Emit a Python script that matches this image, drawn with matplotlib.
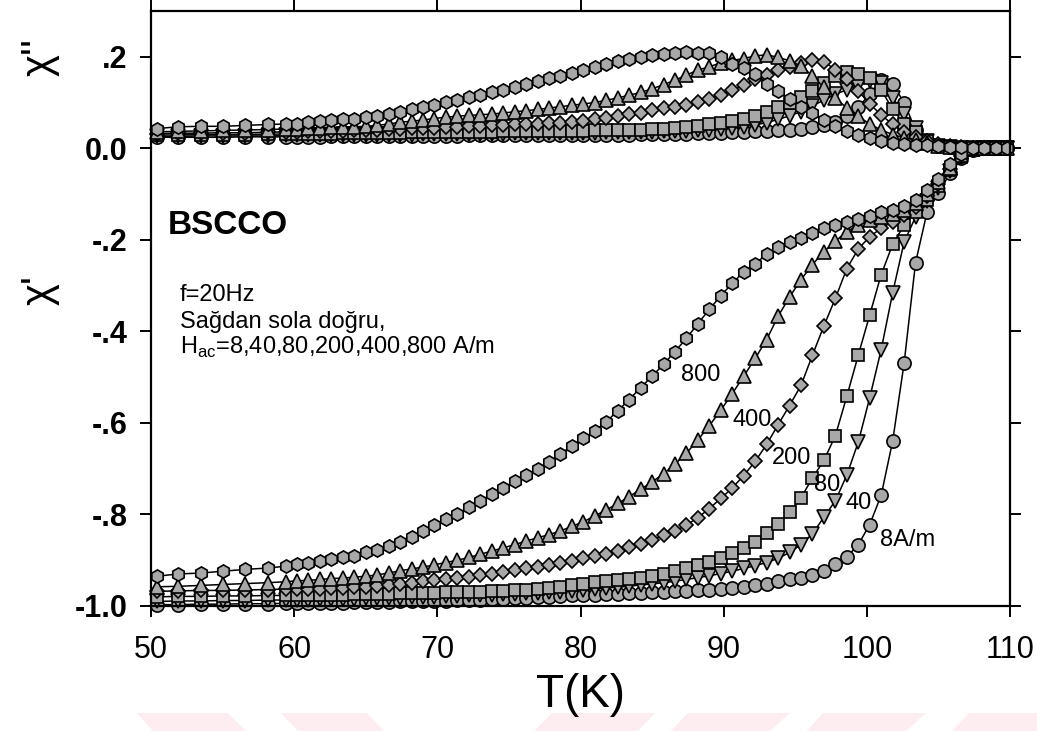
import matplotlib
matplotlib.use('Agg')
from matplotlib import pyplot as plt
from matplotlib.patches import Polygon

plt.rcParams['font.family'] = ['Liberation Sans', 'DejaVu Sans']
plt.rcParams['mathtext.fontset'] = 'custom'
plt.rcParams['mathtext.rm'] = 'Liberation Sans'

# olcum sicakliklari (K)
T = [50.4, 51.9, 53.5, 55.0, 56.6, 58.2,
     59.4, 60.2, 61.0, 61.8, 62.6, 63.4, 64.2, 65.0, 65.8, 66.6,
     67.4, 68.2, 69.0, 69.8, 70.6, 71.4, 72.2, 73.0, 73.8, 74.6,
     75.4, 76.2, 77.0, 77.8, 78.6, 79.4, 80.2, 81.0, 81.8, 82.6,
     83.4, 84.2, 85.0, 85.8, 86.6, 87.4, 88.2, 89.0, 89.8, 90.6,
     91.4, 92.2, 93.0, 93.8, 94.6, 95.4, 96.2, 97.0, 97.8, 98.6,
     99.4, 100.2, 101.0, 101.8, 102.6, 103.4, 104.2, 105.0, 105.8, 106.6,
     107.4, 108.2, 109.0, 109.8]

# chi' (gercel kisim)
chi1_8 = [-0.997, -0.997, -0.996, -0.996, -0.995, -0.995,
          -0.994, -0.994, -0.994, -0.993, -0.993, -0.993, -0.992, -0.992, -0.991, -0.991,
          -0.990, -0.990, -0.989, -0.989, -0.988, -0.987, -0.987, -0.986, -0.985, -0.984,
          -0.983, -0.982, -0.981, -0.980, -0.979, -0.977, -0.976, -0.975, -0.974, -0.973,
          -0.972, -0.971, -0.970, -0.969, -0.968, -0.967, -0.966, -0.965, -0.963, -0.961,
          -0.958, -0.955, -0.951, -0.946, -0.942, -0.938, -0.932, -0.923, -0.908, -0.893,
          -0.866, -0.822, -0.758, -0.640, -0.470, -0.250, -0.140, -0.098, -0.055, -0.022,
          -0.004, 0.0, 0.0, 0.0]
chi1_40 = [-0.990, -0.989, -0.989, -0.988, -0.988, -0.987,
           -0.987, -0.986, -0.986, -0.985, -0.985, -0.984, -0.984, -0.983, -0.983, -0.982,
           -0.982, -0.981, -0.980, -0.980, -0.979, -0.978, -0.977, -0.976, -0.975, -0.974,
           -0.973, -0.972, -0.971, -0.970, -0.969, -0.967, -0.965, -0.963, -0.961, -0.959,
           -0.957, -0.954, -0.952, -0.949, -0.946, -0.942, -0.938, -0.934, -0.929, -0.924,
           -0.918, -0.912, -0.905, -0.896, -0.883, -0.866, -0.842, -0.806, -0.770, -0.714,
           -0.642, -0.545, -0.440, -0.316, -0.205, -0.150, -0.116, -0.086, -0.050, -0.019,
           -0.003, 0.0, 0.0, 0.0]
chi1_80 = [-0.980, -0.979, -0.979, -0.978, -0.978, -0.977,
           -0.977, -0.976, -0.976, -0.975, -0.975, -0.975, -0.974, -0.974, -0.973, -0.973,
           -0.972, -0.972, -0.971, -0.971, -0.970, -0.970, -0.969, -0.969, -0.968, -0.967,
           -0.966, -0.965, -0.963, -0.961, -0.958, -0.954, -0.951, -0.948, -0.946, -0.944,
           -0.941, -0.938, -0.935, -0.930, -0.924, -0.917, -0.911, -0.904, -0.895, -0.885,
           -0.874, -0.860, -0.841, -0.821, -0.795, -0.764, -0.720, -0.682, -0.628, -0.542,
           -0.452, -0.364, -0.276, -0.210, -0.168, -0.140, -0.112, -0.082, -0.048, -0.018,
           -0.003, 0.0, 0.0, 0.0]
chi1_200 = [-0.968, -0.967, -0.966, -0.966, -0.965, -0.964,
            -0.963, -0.963, -0.962, -0.962, -0.961, -0.960, -0.959, -0.958, -0.957, -0.954,
            -0.951, -0.949, -0.946, -0.943, -0.942, -0.939, -0.936, -0.933, -0.930, -0.926,
            -0.922, -0.918, -0.915, -0.911, -0.906, -0.901, -0.896, -0.891, -0.886, -0.879,
            -0.871, -0.864, -0.856, -0.845, -0.836, -0.823, -0.807, -0.787, -0.765, -0.742,
            -0.715, -0.684, -0.647, -0.604, -0.562, -0.518, -0.452, -0.388, -0.328, -0.263,
            -0.220, -0.193, -0.175, -0.160, -0.146, -0.128, -0.105, -0.078, -0.045, -0.016,
            -0.002, 0.0, 0.0, 0.0]
chi1_400 = [-0.958, -0.957, -0.955, -0.953, -0.951, -0.949,
            -0.947, -0.945, -0.944, -0.942, -0.940, -0.939, -0.937, -0.935, -0.932, -0.928,
            -0.923, -0.919, -0.915, -0.910, -0.905, -0.900, -0.894, -0.887, -0.880, -0.873,
            -0.866, -0.858, -0.851, -0.844, -0.836, -0.826, -0.816, -0.803, -0.790, -0.776,
            -0.761, -0.745, -0.729, -0.711, -0.690, -0.666, -0.637, -0.606, -0.572, -0.536,
            -0.498, -0.459, -0.418, -0.367, -0.325, -0.287, -0.254, -0.226, -0.203, -0.182,
            -0.168, -0.157, -0.150, -0.143, -0.135, -0.120, -0.100, -0.074, -0.042, -0.015,
            -0.002, 0.0, 0.0, 0.0]
chi1_800 = [-0.935, -0.930, -0.928, -0.924, -0.920, -0.917,
            -0.913, -0.909, -0.906, -0.902, -0.898, -0.894, -0.890, -0.883, -0.878, -0.870,
            -0.860, -0.849, -0.836, -0.824, -0.811, -0.798, -0.784, -0.770, -0.756, -0.742,
            -0.728, -0.714, -0.700, -0.686, -0.668, -0.650, -0.634, -0.618, -0.597, -0.574,
            -0.549, -0.523, -0.498, -0.472, -0.444, -0.415, -0.383, -0.352, -0.322, -0.295,
            -0.270, -0.252, -0.232, -0.216, -0.205, -0.195, -0.185, -0.175, -0.167, -0.161,
            -0.155, -0.148, -0.140, -0.134, -0.126, -0.112, -0.092, -0.068, -0.035, -0.012,
            0.0, 0.0, 0.0, 0.0]

# chi'' (sanal kisim)
chi2_8 = [0.024, 0.024, 0.024, 0.024, 0.025, 0.025,
          0.025, 0.025, 0.025, 0.025, 0.026, 0.026, 0.026, 0.026, 0.026, 0.026,
          0.027, 0.027, 0.027, 0.027, 0.027, 0.027, 0.028, 0.028, 0.028, 0.028,
          0.028, 0.028, 0.029, 0.029, 0.029, 0.029, 0.029, 0.030, 0.030, 0.030,
          0.030, 0.031, 0.031, 0.031, 0.032, 0.032, 0.033, 0.033, 0.034, 0.035,
          0.036, 0.037, 0.038, 0.039, 0.041, 0.043, 0.046, 0.050, 0.057, 0.070,
          0.090, 0.118, 0.150, 0.140, 0.100, 0.040, 0.012, 0.004, 0.002, 0.001,
          0.0, 0.0, 0.0, 0.0]
chi2_40 = [0.026, 0.026, 0.027, 0.027, 0.027, 0.027,
           0.028, 0.028, 0.028, 0.028, 0.029, 0.029, 0.029, 0.029, 0.030, 0.030,
           0.030, 0.030, 0.031, 0.031, 0.031, 0.031, 0.032, 0.032, 0.032, 0.032,
           0.033, 0.033, 0.033, 0.033, 0.034, 0.034, 0.034, 0.034, 0.035, 0.035,
           0.035, 0.036, 0.036, 0.037, 0.037, 0.038, 0.039, 0.040, 0.042, 0.044,
           0.047, 0.051, 0.056, 0.063, 0.071, 0.080, 0.093, 0.105, 0.118, 0.128,
           0.137, 0.146, 0.142, 0.110, 0.075, 0.045, 0.015, 0.005, 0.002, 0.001,
           0.0, 0.0, 0.0, 0.0]
chi2_80 = [0.029, 0.029, 0.030, 0.030, 0.030, 0.031,
           0.031, 0.031, 0.032, 0.032, 0.032, 0.033, 0.033, 0.033, 0.034, 0.034,
           0.034, 0.035, 0.035, 0.035, 0.035, 0.036, 0.036, 0.036, 0.036, 0.037,
           0.037, 0.037, 0.037, 0.038, 0.038, 0.038, 0.038, 0.039, 0.039, 0.040,
           0.040, 0.041, 0.042, 0.043, 0.044, 0.046, 0.049, 0.052, 0.056, 0.060,
           0.064, 0.071, 0.080, 0.090, 0.100, 0.112, 0.126, 0.142, 0.158, 0.166,
           0.162, 0.154, 0.128, 0.085, 0.054, 0.036, 0.015, 0.005, 0.002, 0.001,
           0.0, 0.0, 0.0, 0.0]
chi2_200 = [0.032, 0.033, 0.033, 0.034, 0.034, 0.035,
            0.036, 0.036, 0.037, 0.037, 0.038, 0.038, 0.039, 0.040, 0.041, 0.042,
            0.043, 0.044, 0.044, 0.045, 0.046, 0.047, 0.048, 0.049, 0.050, 0.051,
            0.052, 0.053, 0.054, 0.055, 0.056, 0.058, 0.060, 0.063, 0.066, 0.070,
            0.074, 0.077, 0.083, 0.087, 0.091, 0.095, 0.101, 0.108, 0.117, 0.127,
            0.138, 0.151, 0.160, 0.170, 0.178, 0.187, 0.192, 0.189, 0.172, 0.152,
            0.125, 0.097, 0.073, 0.052, 0.035, 0.024, 0.016, 0.009, 0.005, 0.002,
            0.0, 0.0, 0.0, 0.0]
chi2_400 = [0.036, 0.037, 0.038, 0.039, 0.040, 0.041,
            0.042, 0.043, 0.044, 0.045, 0.046, 0.046, 0.047, 0.048, 0.050, 0.053,
            0.057, 0.059, 0.062, 0.065, 0.068, 0.070, 0.072, 0.073, 0.075, 0.077,
            0.080, 0.082, 0.085, 0.088, 0.091, 0.094, 0.097, 0.100, 0.105, 0.110,
            0.116, 0.122, 0.130, 0.139, 0.149, 0.160, 0.171, 0.178, 0.187, 0.192,
            0.196, 0.202, 0.204, 0.199, 0.191, 0.180, 0.158, 0.133, 0.110, 0.088,
            0.070, 0.053, 0.040, 0.030, 0.023, 0.018, 0.012, 0.006, 0.003, 0.001,
            0.0, 0.0, 0.0, 0.0]
chi2_800 = [0.043, 0.047, 0.048, 0.048, 0.050, 0.052,
            0.053, 0.054, 0.057, 0.059, 0.061, 0.063, 0.065, 0.068, 0.071, 0.075,
            0.080, 0.085, 0.091, 0.095, 0.101, 0.106, 0.111, 0.117, 0.123, 0.128,
            0.134, 0.141, 0.147, 0.153, 0.159, 0.164, 0.170, 0.178, 0.184, 0.190,
            0.195, 0.199, 0.203, 0.207, 0.209, 0.210, 0.209, 0.208, 0.200, 0.184,
            0.175, 0.162, 0.141, 0.125, 0.107, 0.090, 0.076, 0.062, 0.049, 0.038,
            0.029, 0.022, 0.016, 0.012, 0.009, 0.007, 0.007, 0.005, 0.003, 0.002,
            0.001, 0.0, 0.0, 0.0]

# alan degerleri ve sembolleri (SigmaPlot sirasi)
fields = ['8', '40', '80', '200', '400', '800']
markers = ['o', 'v', 's', 'D', '^', 'h']
msizes = [9.5, 9.5, 8, 7.5, 9.5, 9.5]
chi1 = [chi1_8, chi1_40, chi1_80, chi1_200, chi1_400, chi1_800]
chi2 = [chi2_8, chi2_40, chi2_80, chi2_200, chi2_400, chi2_800]

yticks = [-1.0, -0.8, -0.6, -0.4, -0.2, 0.0, 0.2]
yticklabels = ['-1.0', '-.8', '-.6', '-.4', '-.2', '0.0', '.2']
xticks = [50, 60, 70, 80, 90, 100, 110]

fig = plt.figure(figsize=(10.37, 7.31), dpi=100)
ax = fig.add_axes([0.1456, 0.171, 0.8284, 0.814])

for f, m, ms, c1, c2 in zip(fields, markers, msizes, chi1, chi2):
    for c in (c1, c2):
        ax.plot(T, c, color='k', lw=1.1, marker=m, ms=ms, mfc='#a8a8a8',
                mec='k', mew=1.2, clip_on=False)

ax.set_xlim(50, 110)
ax.set_ylim(-1.0, 0.3)
ax.set_xticks(xticks)
ax.set_yticks(yticks)
ax.set_xticklabels([str(v) for v in xticks], fontsize=22)
ax.set_yticklabels(yticklabels, fontweight='bold', fontsize=22)
ax.tick_params(direction='out', length=8, width=1.4, top=True, right=True,
               labeltop=False, labelright=False)
ax.tick_params(axis='x', pad=13)
ax.tick_params(axis='y', pad=9)
for s in ax.spines.values():
    s.set_linewidth(1.6)

ax.set_xlabel('T(K)', fontsize=33, labelpad=6)
fig.text(40 / 1037, 1 - 57 / 731, "χ''", rotation=90, fontsize=30,
         ha='center', va='center')
fig.text(40 / 1037, 1 - 290 / 731, "χ'", rotation=90, fontsize=30,
         ha='center', va='center')

ax.text(51.15, -0.168, 'BSCCO', fontsize=24, fontweight='bold', va='center')
ax.text(52.0, -0.321, 'f=20Hz', fontsize=17, va='center')
ax.text(52.0, -0.379, 'Sağdan sola doğru,', fontsize=17, va='center')
ax.text(52.0, -0.434, 'H$_{\\mathrm{ac}}$=8,40,80,200,400,800 A/m', fontsize=17, va='center')

lab_T = [88.37, 92.0, 94.72, 97.24, 99.41, 102.83]
lab_v = [-0.495, -0.593, -0.676, -0.735, -0.774, -0.855]
lab_s = ['800', '400', '200', '80', '40', '8A/m']
for x, y, s in zip(lab_T, lab_v, lab_s):
    ax.text(x, y, s, fontsize=17, ha='center', va='center')

# alttaki soluk pembe filigran
marks = [[(137, 713), (228, 713), (246, 731), (153, 731)],
         [(281, 713), (367, 713), (384, 731), (298, 731)],
         [(552, 713), (655, 713), (638, 731), (534, 731)],
         [(688, 713), (790, 713), (770, 731), (671, 731)],
         [(823, 713), (926, 713), (906, 731), (807, 731)],
         [(969, 713), (1037, 713), (1037, 731), (952, 731)]]
for pts in marks:
    xy = [(px / 1037, 1 - py / 731) for px, py in pts]
    fig.patches.append(Polygon(xy, closed=True, transform=fig.transFigure,
                               facecolor='#fdedf0', edgecolor='none', zorder=-1))

fig.savefig('out.png', dpi=100)
